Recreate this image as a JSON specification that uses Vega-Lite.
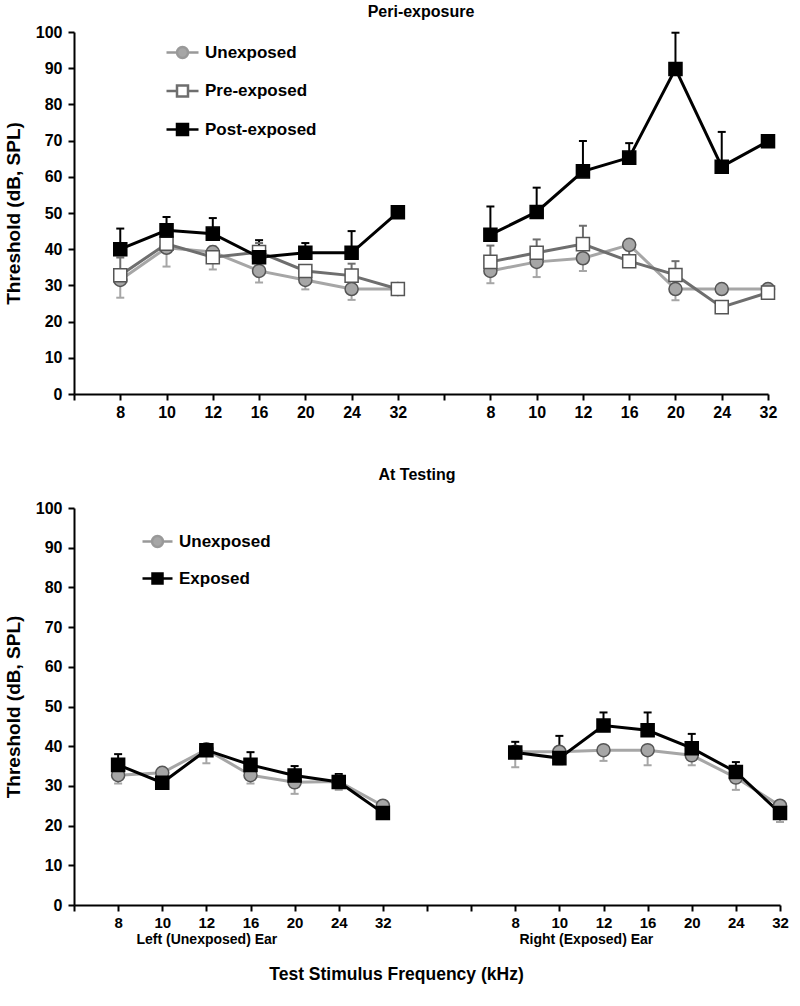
{
  "$schema": "https://vega.github.io/schema/vega-lite/v6.json",
  "padding": {"left": 4, "top": 4, "right": 10, "bottom": 5},
  "spacing": 47,
  "config": {
    "view": {"stroke": null},
    "font": "Liberation Sans",
    "axis": {"domainColor": "#000", "domainWidth": 2, "tickColor": "#000", "tickWidth": 2, "tickSize": 6, "labelColor": "#000", "labelFont": "Liberation Sans", "labelFontSize": 16, "labelFontWeight": "bold", "titleColor": "#000", "grid": false}
  },
  "datasets": {
    "peri": [
      {"series": "Unexposed", "side": "L", "pos": 1, "mean": 31.5, "err": 26.6},
      {"series": "Unexposed", "side": "L", "pos": 2, "mean": 40.4, "err": 35.2},
      {"series": "Unexposed", "side": "L", "pos": 3, "mean": 39.2, "err": 34.4},
      {"series": "Unexposed", "side": "L", "pos": 4, "mean": 34.0, "err": 30.8},
      {"series": "Unexposed", "side": "L", "pos": 5, "mean": 31.5, "err": 28.9},
      {"series": "Unexposed", "side": "L", "pos": 6, "mean": 29.0, "err": 26.0},
      {"series": "Unexposed", "side": "L", "pos": 7, "mean": 29.0, "err": null},
      {"series": "Unexposed", "side": "R", "pos": 9, "mean": 34.0, "err": 30.6},
      {"series": "Unexposed", "side": "R", "pos": 10, "mean": 36.5, "err": 32.3},
      {"series": "Unexposed", "side": "R", "pos": 11, "mean": 37.5, "err": 34.0},
      {"series": "Unexposed", "side": "R", "pos": 12, "mean": 41.2, "err": null},
      {"series": "Unexposed", "side": "R", "pos": 13, "mean": 29.0, "err": 25.9},
      {"series": "Unexposed", "side": "R", "pos": 14, "mean": 29.0, "err": null},
      {"series": "Unexposed", "side": "R", "pos": 15, "mean": 29.0, "err": null},
      {"series": "Pre-exposed", "side": "L", "pos": 1, "mean": 32.8, "err": 37.7},
      {"series": "Pre-exposed", "side": "L", "pos": 2, "mean": 41.5, "err": null},
      {"series": "Pre-exposed", "side": "L", "pos": 3, "mean": 37.8, "err": 40.7},
      {"series": "Pre-exposed", "side": "L", "pos": 4, "mean": 39.2, "err": 41.7},
      {"series": "Pre-exposed", "side": "L", "pos": 5, "mean": 34.0, "err": null},
      {"series": "Pre-exposed", "side": "L", "pos": 6, "mean": 32.7, "err": 36.0},
      {"series": "Pre-exposed", "side": "L", "pos": 7, "mean": 29.0, "err": null},
      {"series": "Pre-exposed", "side": "R", "pos": 9, "mean": 36.5, "err": 41.0},
      {"series": "Pre-exposed", "side": "R", "pos": 10, "mean": 39.0, "err": 42.7},
      {"series": "Pre-exposed", "side": "R", "pos": 11, "mean": 41.4, "err": 46.5},
      {"series": "Pre-exposed", "side": "R", "pos": 12, "mean": 36.7, "err": 39.7},
      {"series": "Pre-exposed", "side": "R", "pos": 13, "mean": 32.9, "err": 36.7},
      {"series": "Pre-exposed", "side": "R", "pos": 14, "mean": 24.0, "err": null},
      {"series": "Pre-exposed", "side": "R", "pos": 15, "mean": 28.0, "err": null},
      {"series": "Post-exposed", "side": "L", "pos": 1, "mean": 40.0, "err": 45.7},
      {"series": "Post-exposed", "side": "L", "pos": 2, "mean": 45.2, "err": 48.9},
      {"series": "Post-exposed", "side": "L", "pos": 3, "mean": 44.3, "err": 48.6},
      {"series": "Post-exposed", "side": "L", "pos": 4, "mean": 37.8, "err": 42.5},
      {"series": "Post-exposed", "side": "L", "pos": 5, "mean": 39.0, "err": 41.7},
      {"series": "Post-exposed", "side": "L", "pos": 6, "mean": 39.0, "err": 45.0},
      {"series": "Post-exposed", "side": "L", "pos": 7, "mean": 50.2, "err": null},
      {"series": "Post-exposed", "side": "R", "pos": 9, "mean": 44.0, "err": 51.8},
      {"series": "Post-exposed", "side": "R", "pos": 10, "mean": 50.3, "err": 57.0},
      {"series": "Post-exposed", "side": "R", "pos": 11, "mean": 61.5, "err": 69.9},
      {"series": "Post-exposed", "side": "R", "pos": 12, "mean": 65.3, "err": 69.3},
      {"series": "Post-exposed", "side": "R", "pos": 13, "mean": 89.8, "err": 99.8},
      {"series": "Post-exposed", "side": "R", "pos": 14, "mean": 62.8, "err": 72.4},
      {"series": "Post-exposed", "side": "R", "pos": 15, "mean": 69.8, "err": null}
    ],
    "testing": [
      {"series": "Unexposed", "side": "L", "pos": 1, "mean": 32.7, "err": 30.6},
      {"series": "Unexposed", "side": "L", "pos": 2, "mean": 33.3, "err": null},
      {"series": "Unexposed", "side": "L", "pos": 3, "mean": 39.2, "err": 35.7},
      {"series": "Unexposed", "side": "L", "pos": 4, "mean": 32.7, "err": 30.6},
      {"series": "Unexposed", "side": "L", "pos": 5, "mean": 30.9, "err": 28.0},
      {"series": "Unexposed", "side": "L", "pos": 6, "mean": 31.1, "err": 29.0},
      {"series": "Unexposed", "side": "L", "pos": 7, "mean": 25.0, "err": null},
      {"series": "Unexposed", "side": "R", "pos": 10, "mean": 38.6, "err": 34.7},
      {"series": "Unexposed", "side": "R", "pos": 11, "mean": 38.6, "err": 35.4},
      {"series": "Unexposed", "side": "R", "pos": 12, "mean": 39.0, "err": 36.3},
      {"series": "Unexposed", "side": "R", "pos": 13, "mean": 39.0, "err": 35.2},
      {"series": "Unexposed", "side": "R", "pos": 14, "mean": 37.7, "err": 35.2},
      {"series": "Unexposed", "side": "R", "pos": 15, "mean": 32.1, "err": 29.0},
      {"series": "Unexposed", "side": "R", "pos": 16, "mean": 25.0, "err": 20.9},
      {"series": "Exposed", "side": "L", "pos": 1, "mean": 35.3, "err": 38.0},
      {"series": "Exposed", "side": "L", "pos": 2, "mean": 30.8, "err": null},
      {"series": "Exposed", "side": "L", "pos": 3, "mean": 39.0, "err": null},
      {"series": "Exposed", "side": "L", "pos": 4, "mean": 35.3, "err": 38.5},
      {"series": "Exposed", "side": "L", "pos": 5, "mean": 32.6, "err": 35.0},
      {"series": "Exposed", "side": "L", "pos": 6, "mean": 31.0, "err": 33.0},
      {"series": "Exposed", "side": "L", "pos": 7, "mean": 23.2, "err": null},
      {"series": "Exposed", "side": "R", "pos": 10, "mean": 38.4, "err": 41.1},
      {"series": "Exposed", "side": "R", "pos": 11, "mean": 37.0, "err": 42.6},
      {"series": "Exposed", "side": "R", "pos": 12, "mean": 45.2, "err": 48.5},
      {"series": "Exposed", "side": "R", "pos": 13, "mean": 44.0, "err": 48.5},
      {"series": "Exposed", "side": "R", "pos": 14, "mean": 39.5, "err": 43.1},
      {"series": "Exposed", "side": "R", "pos": 15, "mean": 33.5, "err": 36.0},
      {"series": "Exposed", "side": "R", "pos": 16, "mean": 23.2, "err": null}
    ]
  },
  "resolve": {"scale": {"x": "independent", "y": "independent", "color": "independent", "fill": "independent", "stroke": "independent", "shape": "independent"}},
  "vconcat": [
    {
      "width": 694,
      "height": 362,
      "title": {"text": "Peri-exposure", "fontSize": 16, "fontWeight": "bold", "font": "Liberation Sans", "color": "#000", "offset": 4, "frame": "group"},
      "data": {"name": "peri"},
      "encoding": {
        "x": {"field": "pos", "type": "quantitative", "scale": {"domain": [0, 15], "nice": false, "zero": false},
          "axis": {"title": null, "values": [0,1,2,3,4,5,6,7,8,9,10,11,12,13,14,15], "labelPadding": 4, "labelFlush": false, "labelOverlap": false,
            "labelExpr": "datum.value >= 1 && datum.value <= 7 ? ['8','10','12','16','20','24','32'][datum.value - 1] : (datum.value >= 9 && datum.value <= 15 ? ['8','10','12','16','20','24','32'][datum.value - 9] : '')"}},
        "y": {"field": "mean", "type": "quantitative", "scale": {"domain": [0, 100], "nice": false},
          "axis": {"values": [0,10,20,30,40,50,60,70,80,90,100], "title": "Threshold (dB, SPL)", "titleFont": "Liberation Sans", "titleFontSize": 19, "titleFontWeight": "bold", "titlePadding": 12, "labelPadding": 6}}
      },
      "layer": [
        {
          "transform": [{"filter": "isValid(datum.err)"}],
          "mark": {"type": "rule", "strokeWidth": 2},
          "encoding": {
            "y2": {"field": "err"},
            "color": {"field": "series", "type": "nominal", "legend": null, "scale": {"domain": ["Post-exposed", "Pre-exposed", "Unexposed"], "range": ["#000000", "#6e6e6e", "#a6a6a6"]}}
          }
        },
        {
          "transform": [{"filter": "isValid(datum.err)"}],
          "mark": {"type": "tick", "orient": "horizontal", "size": 8, "thickness": 2, "opacity": 1},
          "encoding": {
            "y": {"field": "err", "type": "quantitative",
              "axis": {"values": [0,10,20,30,40,50,60,70,80,90,100], "title": "Threshold (dB, SPL)", "titleFont": "Liberation Sans", "titleFontSize": 19, "titleFontWeight": "bold", "titlePadding": 12, "labelPadding": 6}},
            "color": {"field": "series", "type": "nominal", "legend": null}
          }
        },
        {
          "mark": {"type": "line", "strokeWidth": 3},
          "encoding": {
            "color": {"field": "series", "type": "nominal", "legend": null},
            "detail": {"field": "side"}
          }
        },
        {
          "transform": [{"filter": "datum.series === 'Unexposed'"}],
          "mark": {"type": "point", "shape": "circle", "filled": true, "size": 170, "fill": "#a6a6a6", "stroke": "#555555", "strokeWidth": 1.5, "opacity": 1}
        },
        {
          "transform": [{"filter": "datum.series === 'Pre-exposed'"}],
          "mark": {"type": "point", "shape": "square", "filled": true, "size": 170, "fill": "#ffffff", "stroke": "#555555", "strokeWidth": 1.5, "opacity": 1}
        },
        {
          "transform": [{"filter": "datum.series === 'Post-exposed'"}],
          "mark": {"type": "point", "shape": "square", "filled": true, "size": 170, "fill": "#000000", "stroke": "#000000", "strokeWidth": 1.5, "opacity": 1}
        },
        {
          "transform": [{"filter": "false"}],
          "mark": {"type": "point", "filled": true, "opacity": 1},
          "encoding": {
            "fill": {"field": "series", "type": "nominal", "scale": {"domain": ["Unexposed", "Pre-exposed", "Post-exposed"], "range": ["#a6a6a6", "#ffffff", "#000000"]},
              "legend": {"title": null, "orient": "none", "legendX": 97, "legendY": 9, "padding": 0, "symbolSize": 400, "symbolStrokeWidth": 2.5, "symbolOpacity": 1,
                "labelFont": "Liberation Sans", "labelFontSize": 17, "labelFontWeight": "bold", "labelColor": "#000", "labelOffset": 11, "rowPadding": 16.5}},
            "stroke": {"field": "series", "type": "nominal", "scale": {"domain": ["Unexposed", "Pre-exposed", "Post-exposed"], "range": ["#999999", "#6e6e6e", "#000000"]},
              "legend": {"title": null, "orient": "none", "legendX": 97, "legendY": 9, "padding": 0, "symbolSize": 400, "symbolStrokeWidth": 2.5, "symbolOpacity": 1,
                "labelFont": "Liberation Sans", "labelFontSize": 17, "labelFontWeight": "bold", "labelColor": "#000", "labelOffset": 11, "rowPadding": 16.5}},
            "shape": {"field": "series", "type": "nominal", "scale": {"domain": ["Unexposed", "Pre-exposed", "Post-exposed"],
                "range": ["M-1.6,0L-0.55,0M0.55,0L1.6,0M-0.55,0A0.55,0.55,0,1,1,0.55,0A0.55,0.55,0,1,1,-0.55,0Z", "M-1.6,0L-0.55,0M0.55,0L1.6,0M-0.55,-0.55L0.55,-0.55L0.55,0.55L-0.55,0.55Z", "M-1.6,0L-0.55,0M0.55,0L1.6,0M-0.55,-0.55L0.55,-0.55L0.55,0.55L-0.55,0.55Z"]},
              "legend": {"title": null, "orient": "none", "legendX": 97, "legendY": 9, "padding": 0, "symbolSize": 400, "symbolStrokeWidth": 2.5, "symbolOpacity": 1,
                "labelFont": "Liberation Sans", "labelFontSize": 17, "labelFontWeight": "bold", "labelColor": "#000", "labelOffset": 11, "rowPadding": 16.5}}
          }
        }
      ]
    },
    {
      "width": 706,
      "height": 397,
      "title": {"text": "At Testing", "fontSize": 16, "fontWeight": "bold", "font": "Liberation Sans", "color": "#000", "offset": 17, "frame": "group", "dx": -10},
      "data": {"name": "testing"},
      "resolve": {"axis": {"x": "independent"}},
      "encoding": {
        "y": {"field": "mean", "type": "quantitative", "scale": {"domain": [0, 100], "nice": false},
          "axis": {"values": [0,10,20,30,40,50,60,70,80,90,100], "title": "Threshold (dB, SPL)", "titleFont": "Liberation Sans", "titleFontSize": 19, "titleFontWeight": "bold", "titlePadding": 12, "labelPadding": 6}}
      },
      "layer": [
        {
          "transform": [{"filter": "isValid(datum.err)"}],
          "mark": {"type": "rule", "strokeWidth": 2},
          "encoding": {
            "x": {"field": "pos", "type": "quantitative", "axis": null},
            "y2": {"field": "err"},
            "color": {"field": "series", "type": "nominal", "legend": null, "scale": {"domain": ["Exposed", "Unexposed"], "range": ["#000000", "#a6a6a6"]}}
          }
        },
        {
          "transform": [{"filter": "isValid(datum.err)"}],
          "mark": {"type": "tick", "orient": "horizontal", "size": 8, "thickness": 2, "opacity": 1},
          "encoding": {
            "x": {"field": "pos", "type": "quantitative",
              "axis": {"orient": "bottom", "values": [3, 11.6], "labelExpr": "datum.value < 8 ? 'Left (Unexposed) Ear' : 'Right (Exposed) Ear'",
                "ticks": false, "domain": false, "grid": false, "labelPadding": 27, "labelFont": "Liberation Sans Narrow, Liberation Sans", "labelFontSize": 14, "labelFontWeight": "bold",
                "labelFlush": false, "labelOverlap": false, "labelBound": false,
                "title": "Test Stimulus Frequency (kHz)", "titleFont": "Liberation Sans Narrow, Liberation Sans", "titleFontSize": 17.5, "titleFontWeight": "bold", "titlePadding": 19, "titleX": 322}},
            "y": {"field": "err", "type": "quantitative",
              "axis": {"values": [0,10,20,30,40,50,60,70,80,90,100], "title": "Threshold (dB, SPL)", "titleFont": "Liberation Sans", "titleFontSize": 19, "titleFontWeight": "bold", "titlePadding": 12, "labelPadding": 6}},
            "color": {"field": "series", "type": "nominal", "legend": null}
          }
        },
        {
          "mark": {"type": "line", "strokeWidth": 3},
          "encoding": {
            "x": {"field": "pos", "type": "quantitative", "scale": {"domain": [0, 16], "nice": false, "zero": false},
              "axis": {"orient": "bottom", "title": null, "values": [0,1,2,3,4,5,6,7,8,9,10,11,12,13,14,15,16], "labelPadding": 4, "labelFlush": false, "labelOverlap": false,
                "labelFont": "Liberation Sans Narrow, Liberation Sans", "labelFontSize": 15,
                "labelExpr": "datum.value >= 1 && datum.value <= 7 ? ['8','10','12','16','20','24','32'][datum.value - 1] : (datum.value >= 10 && datum.value <= 16 ? ['8','10','12','16','20','24','32'][datum.value - 10] : '')"}},
            "color": {"field": "series", "type": "nominal", "legend": null},
            "detail": {"field": "side"}
          }
        },
        {
          "transform": [{"filter": "datum.series === 'Unexposed'"}],
          "mark": {"type": "point", "shape": "circle", "filled": true, "size": 170, "fill": "#a6a6a6", "stroke": "#555555", "strokeWidth": 1.5, "opacity": 1},
          "encoding": {"x": {"field": "pos", "type": "quantitative", "axis": null}}
        },
        {
          "transform": [{"filter": "datum.series === 'Exposed'"}],
          "mark": {"type": "point", "shape": "square", "filled": true, "size": 170, "fill": "#000000", "stroke": "#000000", "strokeWidth": 1.5, "opacity": 1},
          "encoding": {"x": {"field": "pos", "type": "quantitative", "axis": null}}
        },
        {
          "transform": [{"filter": "false"}],
          "mark": {"type": "point", "filled": true, "opacity": 1},
          "encoding": {
            "x": {"field": "pos", "type": "quantitative", "axis": null},
            "fill": {"field": "series", "type": "nominal", "scale": {"domain": ["Unexposed", "Exposed"], "range": ["#a6a6a6", "#000000"]},
              "legend": {"title": null, "orient": "none", "legendX": 72, "legendY": 22, "padding": 0, "symbolSize": 400, "symbolStrokeWidth": 2.5, "symbolOpacity": 1,
                "labelFont": "Liberation Sans", "labelFontSize": 17, "labelFontWeight": "bold", "labelColor": "#000", "labelOffset": 10, "rowPadding": 15}},
            "stroke": {"field": "series", "type": "nominal", "scale": {"domain": ["Unexposed", "Exposed"], "range": ["#999999", "#000000"]},
              "legend": {"title": null, "orient": "none", "legendX": 72, "legendY": 22, "padding": 0, "symbolSize": 400, "symbolStrokeWidth": 2.5, "symbolOpacity": 1,
                "labelFont": "Liberation Sans", "labelFontSize": 17, "labelFontWeight": "bold", "labelColor": "#000", "labelOffset": 10, "rowPadding": 15}},
            "shape": {"field": "series", "type": "nominal", "scale": {"domain": ["Unexposed", "Exposed"],
                "range": ["M-1.5,0L-0.55,0M0.55,0L1.5,0M-0.55,0A0.55,0.55,0,1,1,0.55,0A0.55,0.55,0,1,1,-0.55,0Z", "M-1.5,0L-0.5,0M0.5,0L1.5,0M-0.5,-0.5L0.5,-0.5L0.5,0.5L-0.5,0.5Z"]},
              "legend": {"title": null, "orient": "none", "legendX": 72, "legendY": 22, "padding": 0, "symbolSize": 400, "symbolStrokeWidth": 2.5, "symbolOpacity": 1,
                "labelFont": "Liberation Sans", "labelFontSize": 17, "labelFontWeight": "bold", "labelColor": "#000", "labelOffset": 10, "rowPadding": 15}}
          }
        }
      ]
    }
  ]
}
